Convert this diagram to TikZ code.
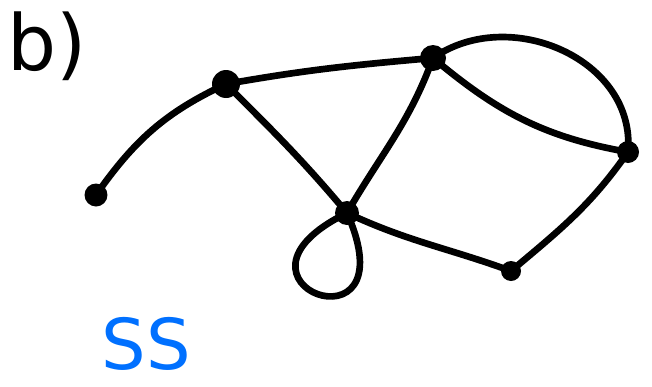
\documentclass[tikz,border=0pt]{standalone}
\usepackage{fontspec}
\setsansfont{DejaVu Sans}
\definecolor{penblue}{RGB}{0,112,255}
\begin{document}
\begin{tikzpicture}[x=0.02cm,y=-0.02cm,line width=3.8pt,line cap=round,line join=round,
  vtx/.style={circle,fill,inner sep=0pt,minimum size=#1},
  vtx/.default=0.46cm]
\useasboundingbox (0,0) rectangle (652,386);
\node[font=\sffamily\fontsize{44}{44}\selectfont] (lbl) at (47,46) {b)};
\node[font=\sffamily\fontsize{40}{40}\selectfont,text=penblue] (ss) at (146,344) {SS};
\node[vtx] (a) at (96,195) {};
\node[vtx=0.56cm] (b) at (226,84) {};
\node[vtx=0.52cm] (c) at (433,58) {};
\node[vtx=0.44cm] (d) at (628,152) {};
\node[vtx=0.48cm] (e) at (347,213) {};
\node[vtx=0.4cm] (f) at (511,271) {};
\draw (a.center) to[out=55,in=205] (b.center);
\draw (b.center) to[out=10,in=185] (c.center);
\draw (b.center) to[out=-45,in=130] (e.center);
\draw (c.center) to[out=-110,in=60] (e.center);
\draw (c.center) to[out=-40,in=170] (d.center);
\draw (c.center) to[out=35,in=85,looseness=1.1] (d.center);
\draw (d.center) to[out=-125,in=40] (f.center);
\draw (e.center) to[out=-25,in=160] (f.center);
\draw (e.center) to[out=206,in=-66,loop,min distance=3.2cm] (e.center);
\end{tikzpicture}
\end{document}
